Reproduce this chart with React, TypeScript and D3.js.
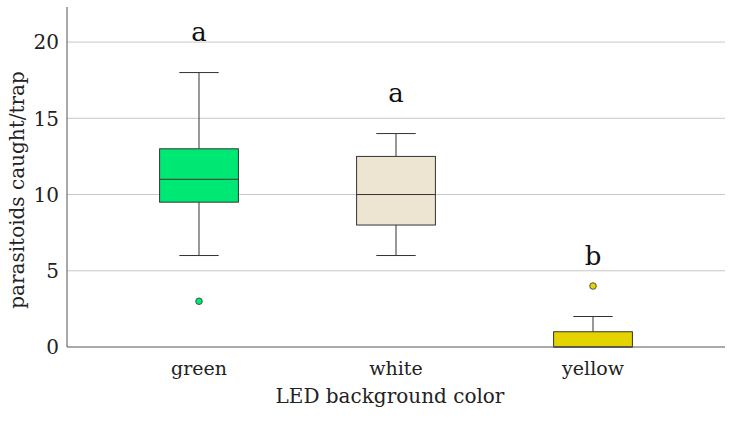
import React, { useEffect, useRef } from "react";
import * as d3 from "d3";

const categories = ["green", "white", "yellow"];
const lowWhisker = [6, 6, 0];
const q1 = [9.5, 8, 0];
const medians = [11, 10, 0];
const q3 = [13, 12.5, 1];
const highWhisker = [18, 14, 2];
const outliers = [[3], [], [4]];
const letters = ["a", "a", "b"];
const letterY = [20.1, 16.1, 5.35];
const fills = ["#00e874", "#ede5d1", "#e5d300"];
const yTicks = [0, 5, 10, 15, 20];

const W = 732;
const H = 421;
const FONT = "'DejaVu Serif', 'Liberation Serif', serif";

const App = () => {
  const svgRef = useRef<SVGSVGElement>(null);

  useEffect(() => {
    const svg = d3.select(svgRef.current);
    svg.selectAll("*").remove();

    const left = 67;
    const right = 725;
    const top = 7;
    const bottom = 347;

    const x = d3.scalePoint().domain(categories).range([left, right]).padding(0.67);
    const y = d3.scaleLinear().domain([0, 22.3]).range([bottom, top]);
    const step = x.step();
    const boxW = step * 0.4;
    const capW = boxW / 2;

    // gridlines
    svg
      .append("g")
      .selectAll("line")
      .data(yTicks.filter((t) => t > 0))
      .join("line")
      .attr("x1", left)
      .attr("x2", right)
      .attr("y1", (d) => y(d))
      .attr("y2", (d) => y(d))
      .attr("stroke", "#c8c8c8")
      .attr("stroke-width", 1);

    // y tick labels
    svg
      .append("g")
      .selectAll("text")
      .data(yTicks)
      .join("text")
      .attr("x", left - 8)
      .attr("y", (d) => y(d))
      .attr("dy", "0.36em")
      .attr("text-anchor", "end")
      .attr("font-family", FONT)
      .attr("font-size", 20)
      .attr("fill", "#222")
      .text((d) => d);

    const data = categories.map((c, i) => ({
      c,
      lo: lowWhisker[i],
      q1: q1[i],
      med: medians[i],
      q3: q3[i],
      hi: highWhisker[i],
      out: outliers[i],
      letter: letters[i],
      ly: letterY[i],
      fill: fills[i],
    }));

    const g = svg.append("g").selectAll("g").data(data).join("g");

    // whiskers
    g.append("line")
      .attr("x1", (d) => x(d.c)!)
      .attr("x2", (d) => x(d.c)!)
      .attr("y1", (d) => y(d.q3))
      .attr("y2", (d) => y(d.hi))
      .attr("stroke", "#333");
    g.filter((d) => d.q1 > d.lo)
      .append("line")
      .attr("x1", (d) => x(d.c)!)
      .attr("x2", (d) => x(d.c)!)
      .attr("y1", (d) => y(d.q1))
      .attr("y2", (d) => y(d.lo))
      .attr("stroke", "#333");
    g.append("line")
      .attr("x1", (d) => x(d.c)! - capW / 2)
      .attr("x2", (d) => x(d.c)! + capW / 2)
      .attr("y1", (d) => y(d.hi))
      .attr("y2", (d) => y(d.hi))
      .attr("stroke", "#333");
    g.filter((d) => d.q1 > d.lo)
      .append("line")
      .attr("x1", (d) => x(d.c)! - capW / 2)
      .attr("x2", (d) => x(d.c)! + capW / 2)
      .attr("y1", (d) => y(d.lo))
      .attr("y2", (d) => y(d.lo))
      .attr("stroke", "#333");

    // boxes
    g.append("rect")
      .attr("x", (d) => x(d.c)! - boxW / 2)
      .attr("y", (d) => y(d.q3))
      .attr("width", boxW)
      .attr("height", (d) => y(d.q1) - y(d.q3))
      .attr("fill", (d) => d.fill)
      .attr("stroke", "#333")
      .attr("stroke-width", 1);
    g.append("line")
      .attr("x1", (d) => x(d.c)! - boxW / 2)
      .attr("x2", (d) => x(d.c)! + boxW / 2)
      .attr("y1", (d) => y(d.med))
      .attr("y2", (d) => y(d.med))
      .attr("stroke", "#333");

    // outliers
    g.selectAll("circle")
      .data((d) => d.out.map((v) => ({ v, c: d.c, fill: d.fill })))
      .join("circle")
      .attr("cx", (d) => x(d.c)!)
      .attr("cy", (d) => y(d.v))
      .attr("r", 3.3)
      .attr("fill", (d) => d.fill)
      .attr("stroke", "#333")
      .attr("stroke-width", 0.8);

    // significance letters
    g.append("text")
      .attr("x", (d) => x(d.c)!)
      .attr("y", (d) => y(d.ly))
      .attr("text-anchor", "middle")
      .attr("font-family", FONT)
      .attr("font-size", 26)
      .attr("fill", "#111")
      .text((d) => d.letter);

    // axes lines
    svg
      .append("line")
      .attr("x1", left)
      .attr("x2", left)
      .attr("y1", top)
      .attr("y2", bottom)
      .attr("stroke", "#555");
    svg
      .append("line")
      .attr("x1", left)
      .attr("x2", right)
      .attr("y1", bottom)
      .attr("y2", bottom)
      .attr("stroke", "#555");

    // x tick labels
    svg
      .append("g")
      .selectAll("text")
      .data(categories)
      .join("text")
      .attr("x", (d) => x(d)!)
      .attr("y", 375)
      .attr("text-anchor", "middle")
      .attr("font-family", FONT)
      .attr("font-size", 19)
      .attr("fill", "#222")
      .text((d) => d);

    svg
      .append("text")
      .attr("x", (left + right) / 2 - 6)
      .attr("y", 403)
      .attr("text-anchor", "middle")
      .attr("font-family", FONT)
      .attr("font-size", 20)
      .attr("fill", "#222")
      .text("LED background color");

    svg
      .append("text")
      .attr("transform", `translate(24, 190) rotate(-90)`)
      .attr("text-anchor", "middle")
      .attr("font-family", FONT)
      .attr("font-size", 20)
      .attr("fill", "#222")
      .text("parasitoids caught/trap");
  }, []);

  return (
    <svg
      ref={svgRef}
      width={W}
      height={H}
      style={{ position: "absolute", left: 0, top: 0, background: "#fff" }}
    />
  );
};

export default App;
